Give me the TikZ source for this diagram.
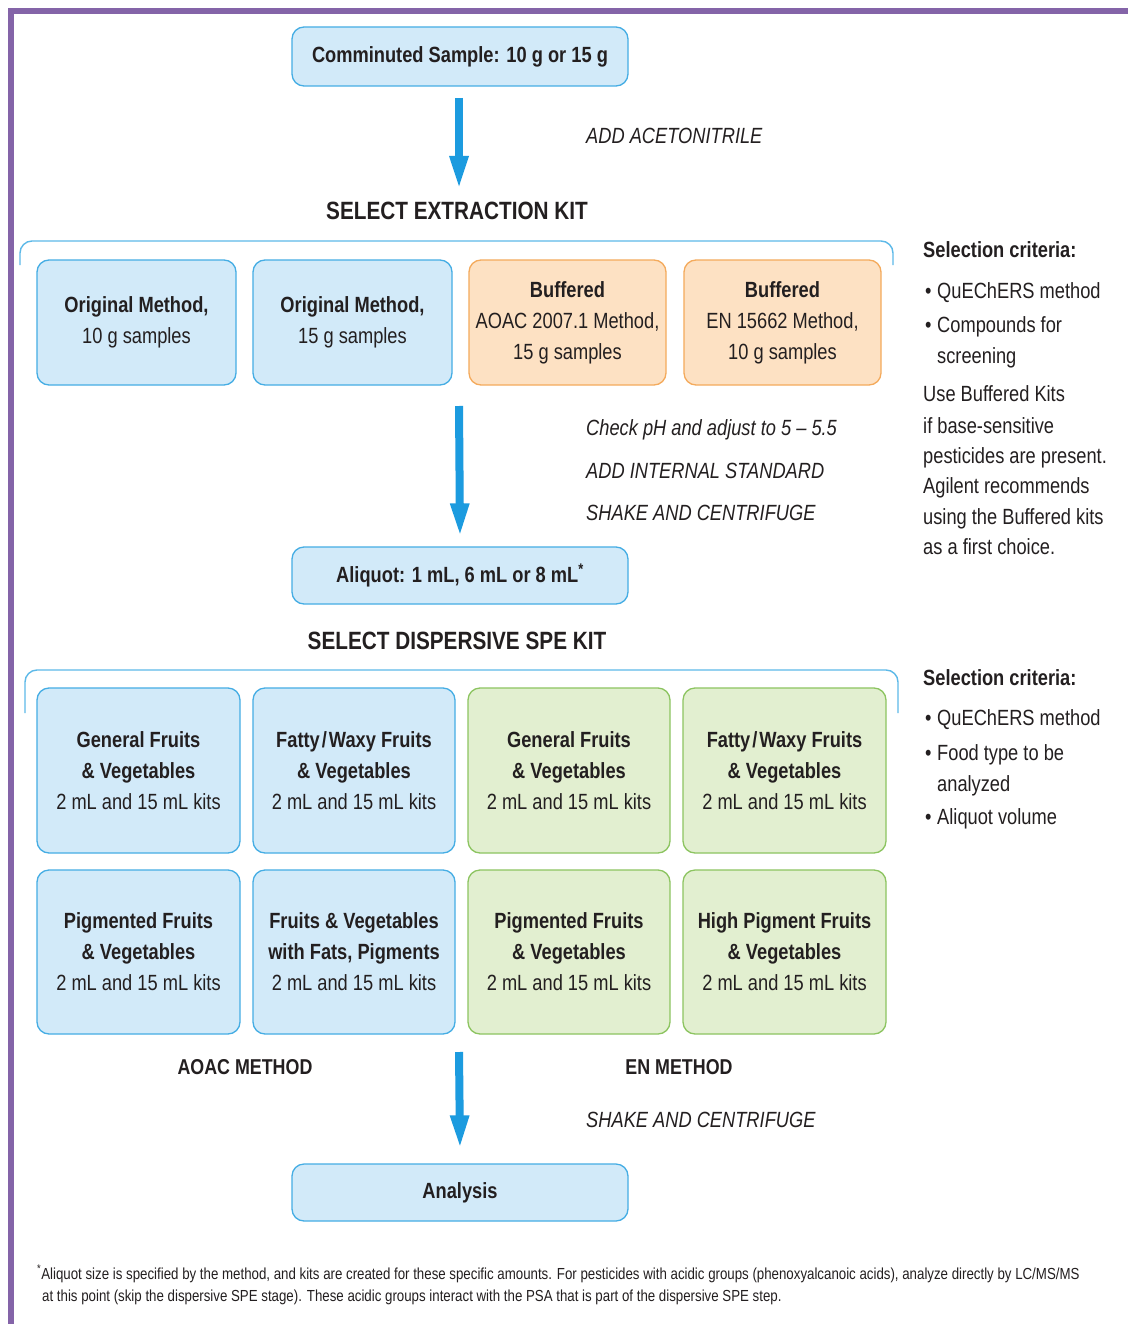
\documentclass[tikz,border=0pt]{standalone}
\usepackage{fontspec}
\setmainfont{Liberation Sans}[FakeStretch=0.83]
\usetikzlibrary{arrows.meta}
\definecolor{purp}{HTML}{8464A8}
\definecolor{txt}{HTML}{231F20}
\definecolor{bbf}{HTML}{D2EAF9}
\definecolor{bbd}{HTML}{45ADE4}
\definecolor{obf}{HTML}{FDE1C3}
\definecolor{obd}{HTML}{F4AA5C}
\definecolor{gbf}{HTML}{E2EFD0}
\definecolor{gbd}{HTML}{8CC460}
\definecolor{arrc}{HTML}{1C9BDF}
\definecolor{brc}{HTML}{5DB9E8}
\tikzset{
  box/.style={draw, rounded corners=12pt, line width=1.3pt, align=center, inner sep=0pt, text=txt, font=\fontsize{22}{31}\selectfont},
  bluebox/.style={box, draw=bbd, fill=bbf},
  orangebox/.style={box, draw=obd, fill=obf},
  greenbox/.style={box, draw=gbd, fill=gbf},
  arr/.style={draw=arrc, line width=8pt, -{Triangle[width=17pt,length=34pt]}},
  brace/.style={draw=brc, line width=1.4pt, rounded corners=12pt},
  title/.style={text=txt, font=\fontsize{25}{30}\selectfont\bfseries, inner sep=0pt},
  sub/.style={text=txt, font=\fontsize{21.5}{26}\selectfont\bfseries, inner sep=0pt},
  note/.style={text=txt, font=\fontsize{22}{26}\selectfont\itshape, inner sep=0pt, anchor=base west},
  crit/.style={text=txt, font=\fontsize{22}{26}\selectfont, inner sep=0pt, anchor=base west},
  critb/.style={crit, font=\fontsize{22}{26}\selectfont\bfseries},
  foot/.style={text=txt, font=\fontsize{16}{19}\selectfont, inner sep=0pt, anchor=base west}
}
\begin{document}
\begin{tikzpicture}[x=1pt,y=-1pt]
\useasboundingbox[fill=white] (0,0) rectangle (1128,1324);
% frame
\draw[purp, line width=6pt] (11,1324) -- (11,11) -- (1128,11);

% top box
\node[bluebox, minimum width=336pt, minimum height=59pt] (comm) at (460,56.5) {\bfseries Comminuted Sample: 10 g or 15 g};
\coordinate (x1) at (459,190);
\draw[arr] (459,98) -- (x1);
\node[note] (n1) at (586,144) {ADD ACETONITRILE};
\node[title] (t1) at (457,211) {SELECT EXTRACTION KIT};
\draw[brace] (20,265) |- (893,241) -- (893,265);

% extraction kits
\node[bluebox, minimum width=199pt, minimum height=125pt] (k1) at (136.5,322.5) {\textbf{Original Method,}\\10 g samples};
\node[bluebox, minimum width=199pt, minimum height=125pt] (k2) at (352.5,322.5) {\textbf{Original Method,}\\15 g samples};
\node[orangebox, minimum width=197pt, minimum height=125pt] (k3) at (567.5,322.5) {\textbf{Buffered}\\AOAC 2007.1 Method,\\15 g samples};
\node[orangebox, minimum width=197pt, minimum height=125pt] (k4) at (782.5,322.5) {\textbf{Buffered}\\EN 15662 Method,\\10 g samples};

% criteria 1
\node[critb] (c1h) at (923,258) {Selection criteria:};
\node[crit] (c1b1) at (925,298) {•};
\node[crit] (c1a) at (937,298) {QuEChERS method};
\node[crit] (c1b2) at (925,332) {•};
\node[crit] (c1b) at (937,332) {Compounds for};
\node[crit] (c1c) at (937,363) {screening};
\node[crit] (c1d) at (923,401) {Use Buffered Kits};
\node[crit] (c1e) at (923,433) {if base-sensitive};
\node[crit] (c1f) at (923,463) {pesticides are present.};
\node[crit] (c1g) at (923,493) {Agilent recommends};
\node[crit] (c1h2) at (923,524) {using the Buffered kits};
\node[crit] (c1i) at (923,554) {as a first choice.};

% arrow 2
\node[bluebox, minimum width=336pt, minimum height=57pt] (aliq) at (460,575.5) {\bfseries Aliquot: 1 mL, 6 mL or 8 mL\textsuperscript{*}};
\coordinate (x2) at (459,406);
\draw[arr] (x2) -- ([yshift=9pt]aliq.north);
\node[note] (n2) at (586,435) {Check pH and adjust to 5 – 5.5};
\node[note] (n3) at (586,478) {ADD INTERNAL STANDARD};
\node[note] (n4) at (586,520) {SHAKE AND CENTRIFUGE};

\node[title] (t2) at (457,641) {SELECT DISPERSIVE SPE KIT};
\draw[brace] (25,713) |- (898,670) -- (898,713);

% dSPE grid
\node[bluebox, minimum width=203pt, minimum height=165pt] (d1) at (138.5,770.5) {\textbf{General Fruits}\\\textbf{\& Vegetables}\\2 mL and 15 mL kits};
\node[bluebox, minimum width=202pt, minimum height=165pt] (d2) at (354,770.5) {\textbf{Fatty\kern2pt/\kern2pt Waxy Fruits}\\\textbf{\& Vegetables}\\2 mL and 15 mL kits};
\node[greenbox, minimum width=202pt, minimum height=165pt] (d3) at (569,770.5) {\textbf{General Fruits}\\\textbf{\& Vegetables}\\2 mL and 15 mL kits};
\node[greenbox, minimum width=203pt, minimum height=165pt] (d4) at (784.5,770.5) {\textbf{Fatty\kern2pt/\kern2pt Waxy Fruits}\\\textbf{\& Vegetables}\\2 mL and 15 mL kits};
\node[bluebox, minimum width=203pt, minimum height=164pt] (d5) at (138.5,952) {\textbf{Pigmented Fruits}\\\textbf{\& Vegetables}\\2 mL and 15 mL kits};
\node[bluebox, minimum width=202pt, minimum height=164pt] (d6) at (354,952) {\textbf{Fruits \& Vegetables}\\\textbf{with Fats, Pigments}\\2 mL and 15 mL kits};
\node[greenbox, minimum width=202pt, minimum height=164pt] (d7) at (569,952) {\textbf{Pigmented Fruits}\\\textbf{\& Vegetables}\\2 mL and 15 mL kits};
\node[greenbox, minimum width=203pt, minimum height=164pt] (d8) at (784.5,952) {\textbf{High Pigment Fruits}\\\textbf{\& Vegetables}\\2 mL and 15 mL kits};

% criteria 2
\node[critb] (c2h) at (923,685) {Selection criteria:};
\node[crit] (c2b1) at (925,725) {•};
\node[crit] (c2a) at (937,725) {QuEChERS method};
\node[crit] (c2b2) at (925,760) {•};
\node[crit] (c2b) at (937,760) {Food type to be};
\node[crit] (c2c) at (937,791) {analyzed};
\node[crit] (c2b3) at (925,824) {•};
\node[crit] (c2d) at (937,824) {Aliquot volume};

\node[sub] (m1) at (245,1067) {AOAC METHOD};
\node[sub] (m2) at (679,1067) {EN METHOD};

% arrow 3
\node[bluebox, minimum width=336pt, minimum height=57pt] (ana) at (460,1192.5) {\bfseries Analysis};
\coordinate (x3) at (459,1052);
\draw[arr] (x3) -- ([yshift=14pt]ana.north);
\node[note] (n5) at (586,1127) {SHAKE AND CENTRIFUGE};

% footnote
\node[foot] (f1) at (37,1279) {\textsuperscript{*}Aliquot size is specified by the method, and kits are created for these specific amounts. For pesticides with acidic groups (phenoxyalcanoic acids), analyze directly by LC/MS/MS};
\node[foot] (f2) at (42,1301) {at this point (skip the dispersive SPE stage). These acidic groups interact with the PSA that is part of the dispersive SPE step.};
\end{tikzpicture}
\end{document}
